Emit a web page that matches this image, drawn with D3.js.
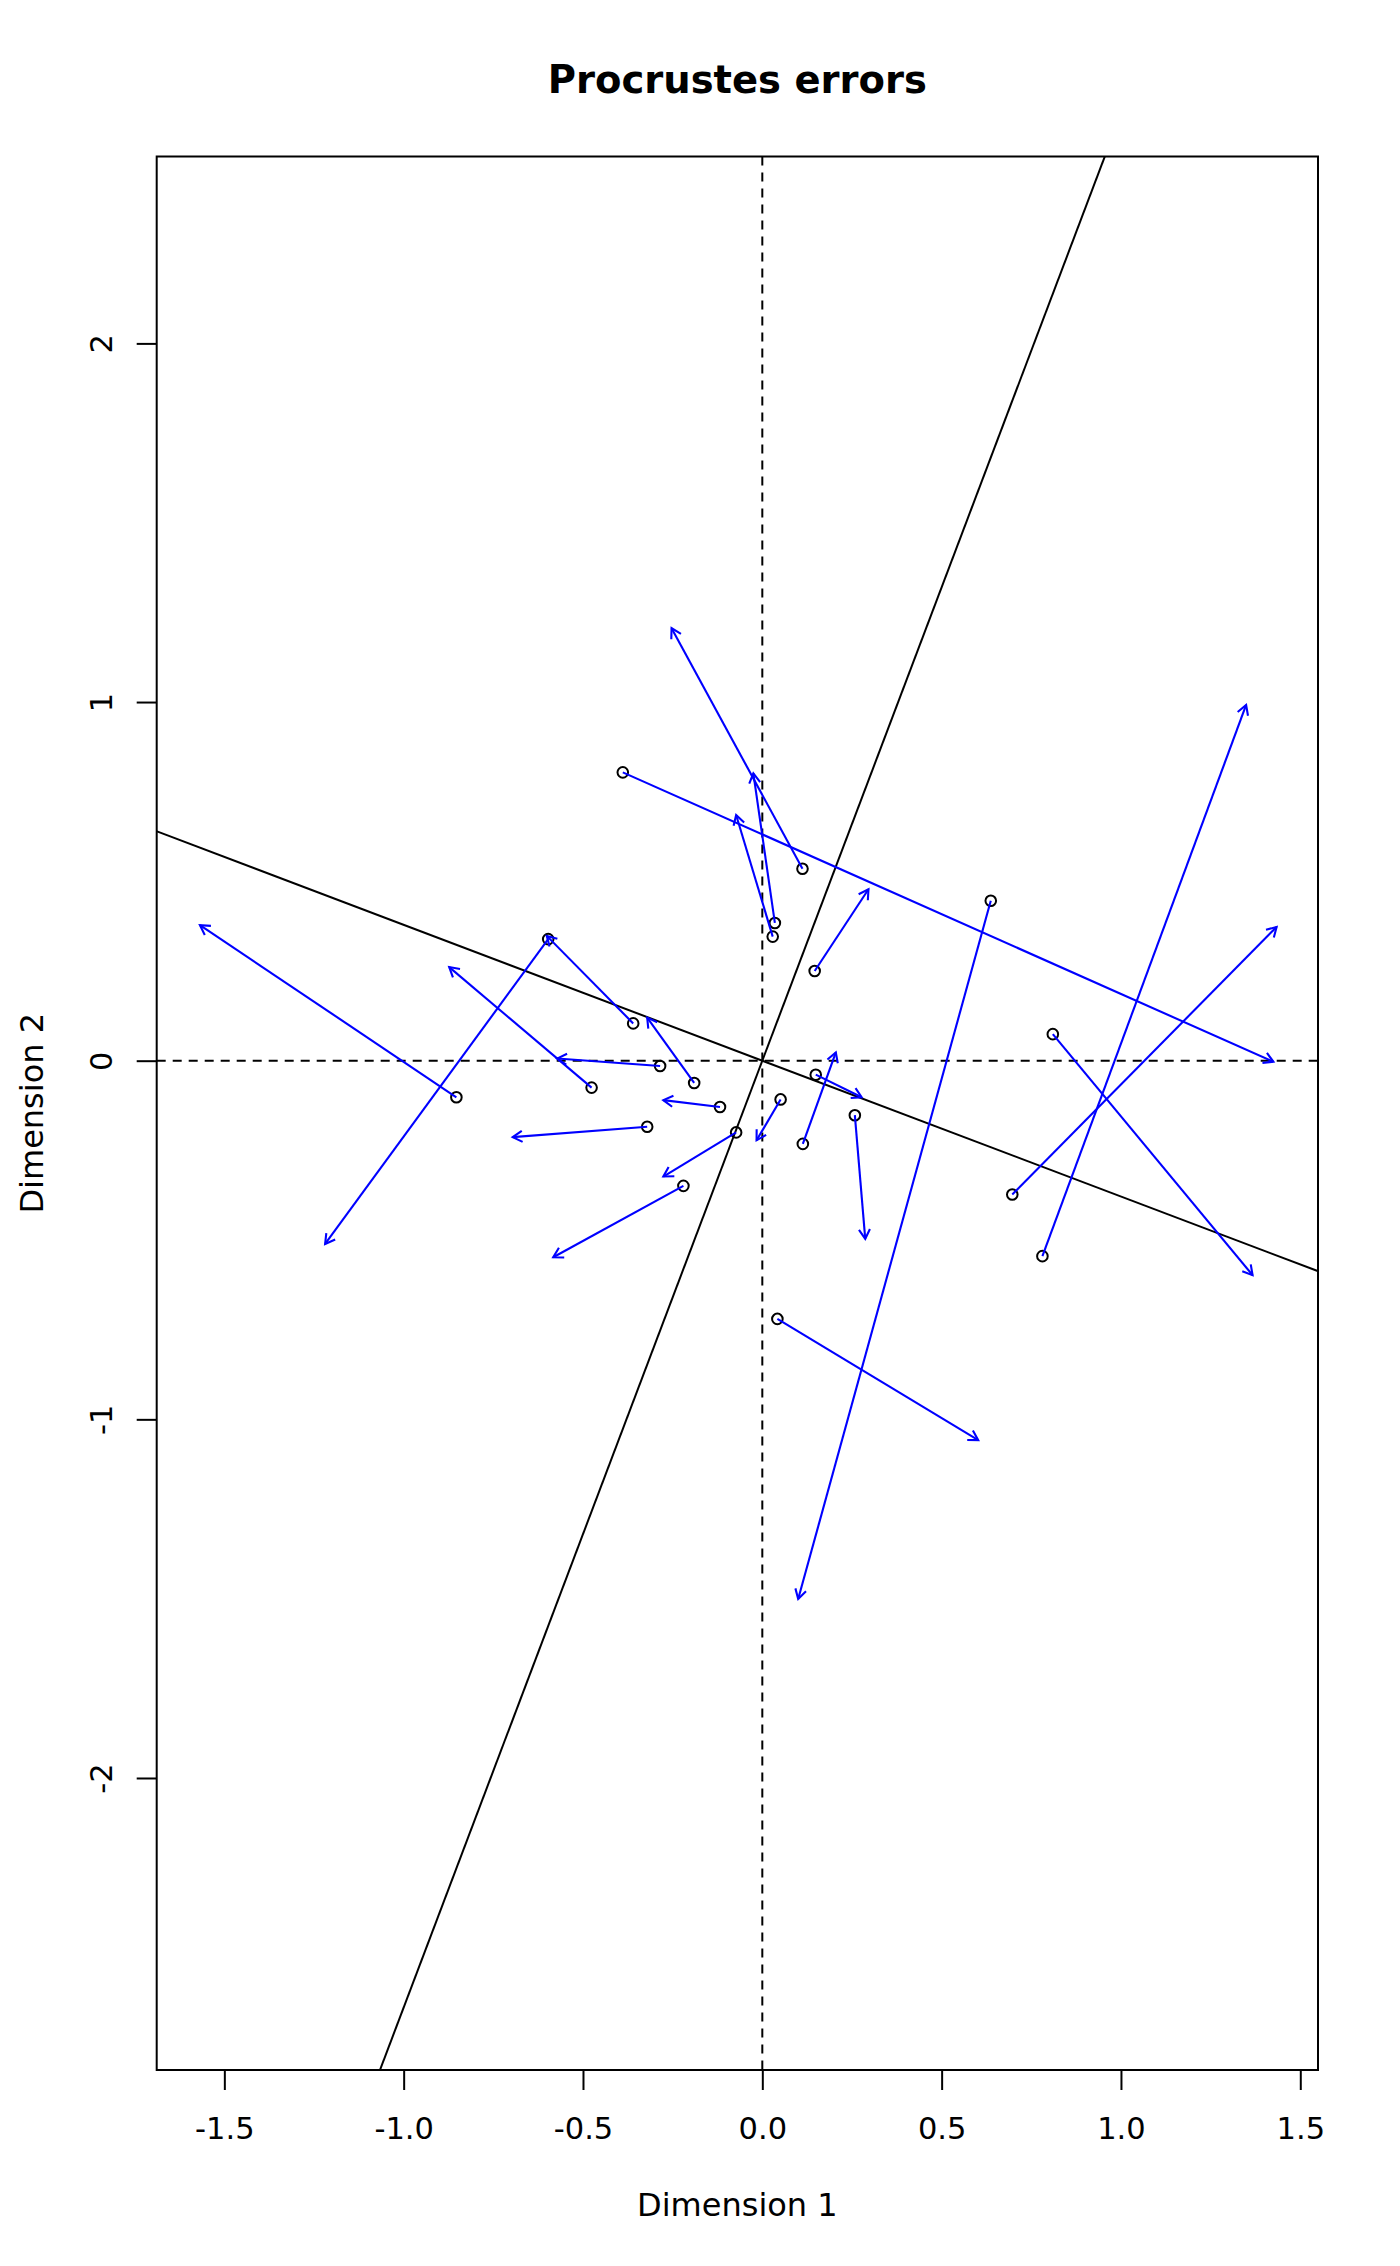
<!DOCTYPE html>
<html>
<head>
<meta charset="utf-8">
<script src="https://cdnjs.cloudflare.com/ajax/libs/d3/7.8.5/d3.min.js"></script>
<style>
  body { margin: 0; background: #fff; }
  text { font-family: "DejaVu Sans", sans-serif; fill: #000; }
</style>
</head>
<body>
<svg id="chart" width="1400" height="2266"></svg>
<script>
// rotated points (circles) and target points (arrow tips)
var rotX = [-0.389, 0.112, 0.035, 0.029, 0.146, 0.637, 0.810, 0.697, 0.781, 0.042, 0.258, 0.149,
            0.113, 0.051, -0.073, -0.220, -0.118, -0.321, -0.190, -0.285, -0.360, -0.597, -0.476, -0.853];
var rotY = [0.804, 0.535, 0.384, 0.346, 0.250, 0.446, 0.074, -0.373, -0.545, -0.720, -0.152, -0.039,
            -0.232, -0.108, -0.200, -0.349, -0.129, -0.184, -0.062, -0.015, 0.104, 0.339, -0.075, -0.102];
var tgtX = [1.425, -0.253, -0.025, -0.073, 0.296, 0.100, 1.367, 1.434, 1.349, 0.602, 0.287, 0.277,
            0.205, -0.016, -0.276, -0.583, -0.276, -0.696, -0.321, -0.572, -0.601, -1.219, -0.873, -1.568];
var tgtY = [-0.003, 1.206, 0.801, 0.685, 0.478, -1.501, -0.598, 0.373, 0.992, -1.058, -0.497, -0.102,
            0.023, -0.222, -0.323, -0.548, -0.110, -0.213, 0.120, 0.006, 0.348, -0.511, 0.261, 0.378];

// rotation axes (slopes through origin)
var rotSlopes = [2.64, -1 / 2.64];

var xTicks = [-1.5, -1.0, -0.5, 0.0, 0.5, 1.0, 1.5];
var yTicks = [-2, -1, 0, 1, 2];

var svg = d3.select("#chart");
var pLeft = 156.7, pRight = 1318, pTop = 156.5, pBottom = 2070;

var x = d3.scaleLinear().domain([-1.6886, 1.5494]).range([pLeft, pRight]);
var y = d3.scaleLinear().domain([-2.8142, 2.5211]).range([pBottom, pTop]);

svg.append("rect").attr("width", 1400).attr("height", 2266).attr("fill", "#fff");

svg.append("defs").append("clipPath").attr("id", "plotclip")
  .append("rect").attr("x", pLeft).attr("y", pTop)
  .attr("width", pRight - pLeft).attr("height", pBottom - pTop);

var plot = svg.append("g").attr("clip-path", "url(#plotclip)");

// dashed zero lines
plot.append("line")
  .attr("x1", x(0)).attr("x2", x(0)).attr("y1", pTop).attr("y2", pBottom)
  .attr("stroke", "#000").attr("stroke-width", 2).attr("stroke-dasharray", "9,7");
plot.append("line")
  .attr("x1", pLeft).attr("x2", pRight).attr("y1", y(0)).attr("y2", y(0))
  .attr("stroke", "#000").attr("stroke-width", 2).attr("stroke-dasharray", "9,7");

// rotation lines
plot.selectAll("line.rot").data(rotSlopes).enter().append("line")
  .attr("class", "rot")
  .attr("x1", function(b) { return x(-5); })
  .attr("y1", function(b) { return y(-5 * b); })
  .attr("x2", function(b) { return x(5); })
  .attr("y2", function(b) { return y(5 * b); })
  .attr("stroke", "#000").attr("stroke-width", 2);

var idx = d3.range(rotX.length);

// points
plot.selectAll("circle.pt").data(idx).enter().append("circle")
  .attr("class", "pt")
  .attr("cx", function(i) { return x(rotX[i]); })
  .attr("cy", function(i) { return y(rotY[i]); })
  .attr("r", 5.3)
  .attr("fill", "none").attr("stroke", "#000").attr("stroke-width", 2);

// arrows
var headLen = 11, headAng = Math.PI / 6;
var arr = plot.selectAll("g.arr").data(idx).enter().append("g").attr("class", "arr");
arr.append("line")
  .attr("x1", function(i) { return x(rotX[i]); })
  .attr("y1", function(i) { return y(rotY[i]); })
  .attr("x2", function(i) { return x(tgtX[i]); })
  .attr("y2", function(i) { return y(tgtY[i]); })
  .attr("stroke", "#0000ff").attr("stroke-width", 2.1);
arr.append("path")
  .attr("d", function(i) {
    var x0 = x(rotX[i]), y0 = y(rotY[i]), x1 = x(tgtX[i]), y1 = y(tgtY[i]);
    var a = Math.atan2(y0 - y1, x0 - x1);
    var p1 = [x1 + headLen * Math.cos(a + headAng), y1 + headLen * Math.sin(a + headAng)];
    var p2 = [x1 + headLen * Math.cos(a - headAng), y1 + headLen * Math.sin(a - headAng)];
    return "M" + p1 + "L" + [x1, y1] + "L" + p2;
  })
  .attr("fill", "none").attr("stroke", "#0000ff").attr("stroke-width", 2.1);

// box
svg.append("rect").attr("x", pLeft).attr("y", pTop)
  .attr("width", pRight - pLeft).attr("height", pBottom - pTop)
  .attr("fill", "none").attr("stroke", "#000").attr("stroke-width", 2);

// axes
var xAxis = svg.append("g").attr("transform", "translate(0," + pBottom + ")")
  .call(d3.axisBottom(x).tickValues(xTicks).tickSize(20)
    .tickFormat(function(d) { return d.toFixed(1); }));
xAxis.select(".domain").remove();
xAxis.selectAll(".tick line").attr("stroke-width", 2);
xAxis.selectAll(".tick text").attr("y", 69).attr("dy", null)
  .style("font-size", "30.5px").style("font-family", "DejaVu Sans").attr("fill", "#000");

var yAxis = svg.append("g").attr("transform", "translate(" + pLeft + ",0)")
  .call(d3.axisLeft(y).tickValues(yTicks).tickSize(20)
    .tickFormat(function(d) { return String(d); }));
yAxis.select(".domain").remove();
yAxis.selectAll(".tick line").attr("stroke-width", 2);
yAxis.selectAll(".tick text")
  .attr("x", null).attr("dy", null)
  .attr("text-anchor", "middle")
  .attr("transform", "translate(-45,0) rotate(-90)")
  .style("font-size", "30.5px").style("font-family", "DejaVu Sans").attr("fill", "#000");

// labels
svg.append("text").attr("x", (pLeft + pRight) / 2).attr("y", 93)
  .attr("text-anchor", "middle").style("font-size", "38.5px").style("font-weight", "bold")
  .text("Procrustes errors");
svg.append("text").attr("x", (pLeft + pRight) / 2).attr("y", 2216)
  .attr("text-anchor", "middle").style("font-size", "32px")
  .text("Dimension 1");
svg.append("text")
  .attr("transform", "translate(43," + ((pTop + pBottom) / 2) + ") rotate(-90)")
  .attr("text-anchor", "middle").style("font-size", "32px")
  .text("Dimension 2");
</script>
</body>
</html>
